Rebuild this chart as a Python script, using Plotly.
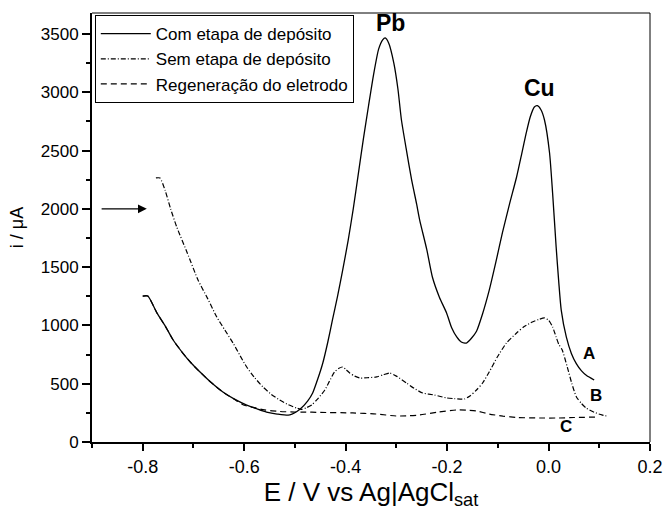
import plotly.graph_objects as go

# ---- data ----
series_names = ["Com etapa de depósito", "Sem etapa de depósito", "Regeneração do eletrodo"]

a_E = [-0.800, -0.790, -0.772, -0.755, -0.740, -0.721, -0.705, -0.687, -0.665, -0.642, -0.620,
       -0.595, -0.575, -0.556, -0.535, -0.510, -0.490, -0.475, -0.465, -0.455, -0.445, -0.435,
       -0.426, -0.416, -0.406, -0.395, -0.385, -0.375, -0.365, -0.355, -0.345, -0.335, -0.327,
       -0.322, -0.315, -0.305, -0.297, -0.290, -0.280, -0.270, -0.260, -0.254, -0.240, -0.229,
       -0.215, -0.201, -0.191, -0.181, -0.172, -0.162, -0.152, -0.142, -0.130, -0.117, -0.104,
       -0.091, -0.077, -0.063, -0.053, -0.044, -0.036, -0.028, -0.022, -0.015, -0.008, 0.002,
       0.008, 0.015, 0.020, 0.025, 0.035, 0.045, 0.055, 0.065, 0.075, 0.090]
a_i = [1252, 1252, 1107, 990, 875, 763, 680, 600, 510, 429, 370,
       317, 285, 257, 240, 232, 280, 350, 420, 540, 678, 860,
       1047, 1250, 1470, 1730, 2000, 2300, 2600, 2880, 3150, 3370, 3450,
       3466, 3420, 3250, 3030, 2762, 2500, 2250, 2040, 1904, 1650, 1415,
       1240, 1107, 980, 901, 858, 849, 890, 950, 1100, 1300, 1540,
       1793, 2040, 2273, 2470, 2651, 2790, 2874, 2885, 2850, 2762, 2479,
       2136, 1673, 1380, 1132, 901, 760, 670, 610, 570, 532]

b_E = [-0.774, -0.766, -0.756, -0.745, -0.733, -0.712, -0.691, -0.672, -0.654, -0.638, -0.622,
       -0.608, -0.595, -0.580, -0.563, -0.547, -0.530, -0.513, -0.497, -0.487, -0.477, -0.467,
       -0.455, -0.441, -0.432, -0.422, -0.414, -0.406, -0.399, -0.392, -0.382, -0.372, -0.355,
       -0.339, -0.325, -0.313, -0.300, -0.280, -0.265, -0.248, -0.225, -0.201, -0.185, -0.166,
       -0.155, -0.142, -0.130, -0.117, -0.101, -0.083, -0.063, -0.048, -0.032, -0.020, -0.008,
       0.000, 0.008, 0.015, 0.020, 0.027, 0.037, 0.046, 0.055, 0.065, 0.074, 0.090, 0.105, 0.114]
b_i = [2265, 2265, 2160, 2000, 1845, 1620, 1390, 1230, 1072, 960, 849,
       740, 643, 555, 472, 410, 360, 320, 292, 280, 295, 318,
       370, 446, 520, 600, 630, 643, 620, 592, 565, 549, 552,
       558, 578, 592, 565, 506, 460, 420, 403, 378, 372, 369,
       395, 446, 506, 600, 729, 849, 935, 990, 1030, 1050, 1064,
       1045, 987, 900, 840, 789, 643, 500, 386, 330, 292, 255, 232, 223]

c_E = [-0.800, -0.790, -0.772, -0.755, -0.740, -0.721, -0.705, -0.687, -0.665, -0.642, -0.620,
       -0.600, -0.580, -0.560, -0.530, -0.500, -0.485, -0.450, -0.386, -0.340, -0.300, -0.275,
       -0.254, -0.220, -0.181, -0.160, -0.142, -0.117, -0.090, -0.060, -0.018, 0.020, 0.050, 0.095]
c_i = [1252, 1252, 1107, 990, 875, 763, 680, 600, 510, 429, 368,
       315, 295, 275, 262, 257, 257, 254, 249, 240, 223, 225,
       232, 255, 275, 272, 266, 240, 222, 210, 206, 206, 210, 214]

x_tickvals = [-0.8, -0.6, -0.4, -0.2, 0.0, 0.2]
x_ticktext = ["-0.8", "-0.6", "-0.4", "-0.2", "0.0", "0.2"]
y_tickvals = [0, 500, 1000, 1500, 2000, 2500, 3000, 3500]

peak_labels = ["Pb", "Cu"]
peak_E = [-0.311, -0.018]
peak_i = [3590, 3035]

curve_labels = ["A", "B", "C"]
curve_label_E = [0.080, 0.094, 0.035]
curve_label_i = [763, 403, 129]

arrow_from_E, arrow_to_E, arrow_i = -0.884, -0.792, 2000

FONT = "Liberation Sans, Arial, sans-serif"

fig = go.Figure()
fig.add_trace(go.Scatter(x=a_E, y=a_i, mode="lines", name=series_names[0],
                         line=dict(color="black", width=1.3, shape="spline", smoothing=0.6)))
fig.add_trace(go.Scatter(x=b_E, y=b_i, mode="lines", name=series_names[1],
                         line=dict(color="black", width=1.2, dash="5px,2px,1px,2px",
                                   shape="spline", smoothing=0.6)))
fig.add_trace(go.Scatter(x=c_E, y=c_i, mode="lines", name=series_names[2],
                         line=dict(color="black", width=1.2, dash="6px,4px",
                                   shape="spline", smoothing=0.6)))

for t, xx, yy in zip(peak_labels, peak_E, peak_i):
    fig.add_annotation(x=xx, y=yy, text=f"<b>{t}</b>", showarrow=False,
                       font=dict(family=FONT, size=23, color="black"))
for t, xx, yy in zip(curve_labels, curve_label_E, curve_label_i):
    fig.add_annotation(x=xx, y=yy, text=f"<b>{t}</b>", showarrow=False,
                       font=dict(family=FONT, size=17, color="black"))

fig.add_annotation(x=arrow_to_E, y=arrow_i, ax=arrow_from_E, ay=arrow_i,
                   axref="x", ayref="y", xref="x", yref="y", text="",
                   showarrow=True, arrowhead=2, arrowsize=1.6, arrowwidth=1.1,
                   arrowcolor="black")

# thin top and right frame lines
fig.add_shape(type="line", xref="paper", yref="paper", x0=0, x1=1, y0=1, y1=1,
              line=dict(color="black", width=1))
fig.add_shape(type="line", xref="paper", yref="paper", x0=1, x1=1, y0=0, y1=1,
              line=dict(color="black", width=1))

fig.update_layout(
    width=664, height=522,
    margin=dict(l=92, r=14, t=13, b=80),
    paper_bgcolor="white", plot_bgcolor="white",
    font=dict(family=FONT, color="black"),
    showlegend=True,
    legend=dict(x=0.005, y=0.995, xanchor="left", yanchor="top",
                bgcolor="white", bordercolor="black", borderwidth=1,
                font=dict(family=FONT, size=17, color="black"),
                itemwidth=50, tracegroupgap=0),
)
fig.update_xaxes(
    range=[-0.9, 0.2], showgrid=False, zeroline=False,
    showline=True, linewidth=2, linecolor="black",
    ticks="outside", ticklen=7, tickwidth=1.5, tickcolor="black",
    tickvals=x_tickvals, ticktext=x_ticktext,
    tickfont=dict(family=FONT, size=18, color="black"),
    minor=dict(dtick=0.1, tick0=-0.9, ticks="outside", ticklen=4, tickwidth=1.5, tickcolor="black"),
    ticklabeloverflow="allow", automargin=False,
    title=dict(text="E / V vs Ag|AgCl<sub>sat</sub>", font=dict(family=FONT, size=26, color="black"),
               standoff=6),
)
fig.update_yaxes(
    range=[0, 3680], showgrid=False, zeroline=False,
    showline=True, linewidth=2, linecolor="black",
    ticks="outside", ticklen=8, tickwidth=1.5, tickcolor="black",
    tickvals=y_tickvals,
    tickfont=dict(family=FONT, size=17, color="black"),
    minor=dict(dtick=250, tick0=0, ticks="outside", ticklen=4, tickwidth=1.5, tickcolor="black"),
    automargin=False,
    title=dict(text="i / μA", font=dict(family=FONT, size=18, color="black"), standoff=12),
)

fig.write_html("out.html")
